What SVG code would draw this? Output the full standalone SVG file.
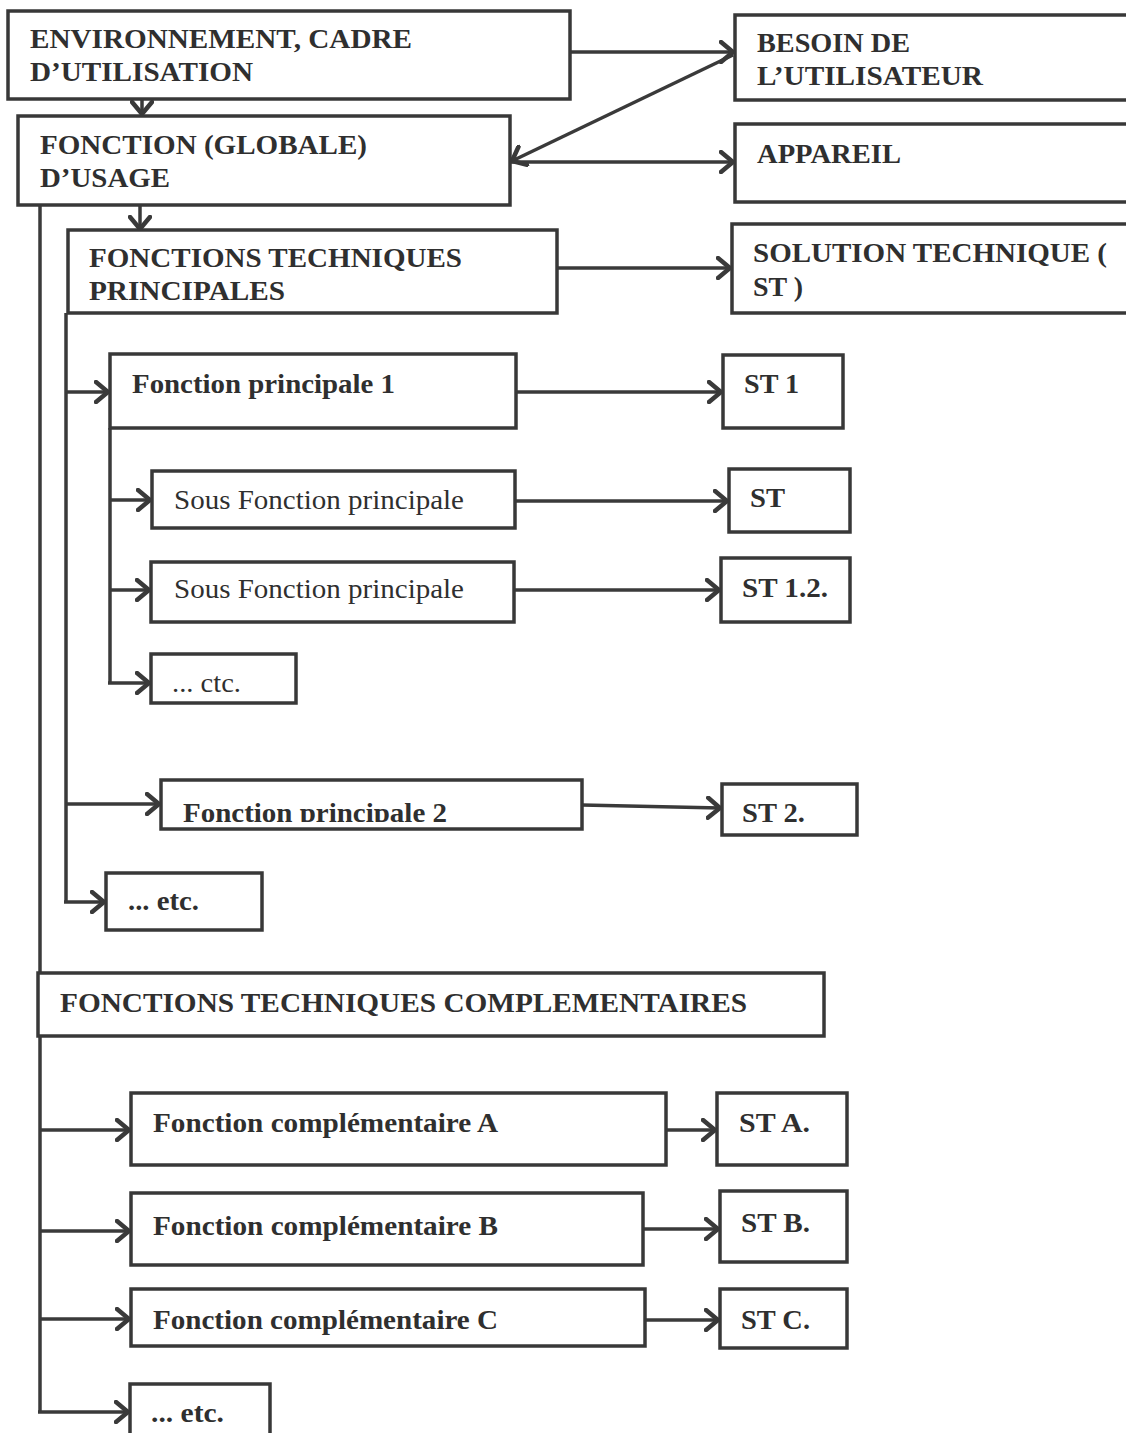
<svg xmlns="http://www.w3.org/2000/svg" width="1126" height="1433" viewBox="0 0 1126 1433">
  <style>
    .box { fill: #ffffff; stroke: #383838; stroke-width: 3.5; }
    .t { font-family: 'Liberation Serif', Tinos, 'DejaVu Serif', 'Times New Roman', serif; fill: #2f2f2f; }
    .hb { font-size: 28px; font-weight: bold; }
    .fb { font-size: 27px; font-weight: bold; }
    .fr { font-size: 27px; }
    .line { fill: none; stroke: #3a3a3a; stroke-width: 3.5; }
    .arr { fill: none; stroke: #3a3a3a; stroke-width: 3.5; marker-end: url(#chev); }
  </style>
  <defs>
    <marker id="chev" viewBox="0 0 16 24" refX="14" refY="12" markerWidth="16" markerHeight="24" markerUnits="userSpaceOnUse" orient="auto">
      <path d="M2,2 L14,12 L2,22" fill="none" stroke="#3a3a3a" stroke-width="4.5" stroke-linejoin="miter" stroke-linecap="round"/>
    </marker>
    <clipPath id="clipFP2">
      <rect x="161" y="779" width="421" height="43"/>
    </clipPath>
  </defs>

  <rect x="0" y="0" width="1126" height="1433" fill="#ffffff"/>

  <g id="connectors">
    <!-- top section -->
    <line class="arr" x1="570" y1="52" x2="733" y2="52"/>
    <line class="arr" x1="733" y1="55" x2="512" y2="161"/>
    <line class="arr" x1="510" y1="162" x2="733" y2="162"/>
    <line class="arr" x1="142" y1="90" x2="142" y2="114"/>
    <line class="arr" x1="140" y1="205" x2="140" y2="229"/>
    <line class="arr" x1="557" y1="268" x2="730" y2="268"/>

    <!-- main left spine -->
    <polyline class="line" points="40,205 40,1412"/>
    <line class="arr" x1="40" y1="1130" x2="129" y2="1130"/>
    <line class="arr" x1="40" y1="1231" x2="129" y2="1231"/>
    <line class="arr" x1="40" y1="1319" x2="129" y2="1319"/>
    <line class="arr" x1="38" y1="1412" x2="128" y2="1412"/>

    <!-- principal functions spine -->
    <polyline class="line" points="66,313 66,902"/>
    <line class="arr" x1="66" y1="392" x2="108" y2="392"/>
    <line class="arr" x1="66" y1="804" x2="159" y2="804"/>
    <line class="arr" x1="64" y1="902" x2="104" y2="902"/>

    <!-- sub-functions spine -->
    <polyline class="line" points="110,428 110,684"/>
    <line class="arr" x1="110" y1="500" x2="150" y2="500"/>
    <line class="arr" x1="110" y1="590" x2="149" y2="590"/>
    <line class="arr" x1="108" y1="683" x2="149" y2="683"/>

    <!-- solutions -->
    <line class="arr" x1="516" y1="392" x2="721" y2="392"/>
    <line class="arr" x1="515" y1="501" x2="727" y2="501"/>
    <line class="arr" x1="514" y1="590" x2="719" y2="590"/>
    <line class="arr" x1="582" y1="805" x2="720" y2="808"/>
    <line class="arr" x1="666" y1="1130" x2="715" y2="1130"/>
    <line class="arr" x1="643" y1="1229" x2="718" y2="1229"/>
    <line class="arr" x1="645" y1="1320" x2="718" y2="1320"/>
  </g>

  <g id="env">
    <rect class="box" x="8" y="11" width="562" height="88"/>
    <text class="t hb" x="30" y="48" textLength="382" lengthAdjust="spacingAndGlyphs">ENVIRONNEMENT, CADRE</text>
    <text class="t hb" x="30" y="81" textLength="223" lengthAdjust="spacingAndGlyphs">D’UTILISATION</text>
  </g>

  <g id="besoin">
    <rect class="box" x="735" y="15" width="400" height="85"/>
    <text class="t hb" x="757" y="52" textLength="153" lengthAdjust="spacingAndGlyphs">BESOIN DE</text>
    <text class="t hb" x="757" y="85" textLength="226" lengthAdjust="spacingAndGlyphs">L’UTILISATEUR</text>
  </g>

  <g id="fonction-usage">
    <rect class="box" x="18" y="116" width="492" height="89"/>
    <text class="t hb" x="40" y="154" textLength="327" lengthAdjust="spacingAndGlyphs">FONCTION (GLOBALE)</text>
    <text class="t hb" x="40" y="187" textLength="130" lengthAdjust="spacingAndGlyphs">D’USAGE</text>
  </g>

  <g id="appareil">
    <rect class="box" x="735" y="124" width="400" height="78"/>
    <text class="t hb" x="757" y="163" textLength="144" lengthAdjust="spacingAndGlyphs">APPAREIL</text>
  </g>

  <g id="ftp">
    <rect class="box" x="68" y="230" width="489" height="83"/>
    <text class="t hb" x="89" y="267" textLength="373" lengthAdjust="spacingAndGlyphs">FONCTIONS TECHNIQUES</text>
    <text class="t hb" x="89" y="300" textLength="196" lengthAdjust="spacingAndGlyphs">PRINCIPALES</text>
  </g>

  <g id="solution">
    <rect class="box" x="732" y="224" width="400" height="89"/>
    <text class="t hb" x="753" y="262" textLength="354" lengthAdjust="spacingAndGlyphs">SOLUTION TECHNIQUE (</text>
    <text class="t hb" x="753" y="296" textLength="50" lengthAdjust="spacingAndGlyphs">ST )</text>
  </g>

  <g id="fp1">
    <rect class="box" x="110" y="354" width="406" height="74"/>
    <text class="t fb" x="132" y="393" textLength="263" lengthAdjust="spacingAndGlyphs">Fonction principale 1</text>
  </g>
  <g id="st1">
    <rect class="box" x="723" y="355" width="120" height="73"/>
    <text class="t fb" x="744" y="393" textLength="55" lengthAdjust="spacingAndGlyphs">ST 1</text>
  </g>

  <g id="sfp1">
    <rect class="box" x="152" y="471" width="363" height="57"/>
    <text class="t fr" x="174" y="509" textLength="290" lengthAdjust="spacingAndGlyphs">Sous Fonction principale</text>
  </g>
  <g id="st11">
    <rect class="box" x="729" y="469" width="121" height="63"/>
    <text class="t fb" x="750" y="507" textLength="35" lengthAdjust="spacingAndGlyphs">ST</text>
  </g>

  <g id="sfp2">
    <rect class="box" x="151" y="562" width="363" height="60"/>
    <text class="t fr" x="174" y="598" textLength="290" lengthAdjust="spacingAndGlyphs">Sous Fonction principale</text>
  </g>
  <g id="st12">
    <rect class="box" x="721" y="558" width="129" height="64"/>
    <text class="t fb" x="742" y="597" textLength="86" lengthAdjust="spacingAndGlyphs">ST 1.2.</text>
  </g>

  <g id="sfp-etc">
    <rect class="box" x="151" y="654" width="145" height="49"/>
    <text class="t fr" x="172" y="692" textLength="69" lengthAdjust="spacingAndGlyphs">... ctc.</text>
  </g>

  <g id="fp2">
    <rect class="box" x="161" y="780" width="421" height="49"/>
    <text class="t fb" x="183" y="822" textLength="264" lengthAdjust="spacingAndGlyphs" clip-path="url(#clipFP2)">Fonction principale 2</text>
  </g>
  <g id="st2">
    <rect class="box" x="722" y="784" width="135" height="51"/>
    <text class="t fb" x="742" y="822" textLength="63" lengthAdjust="spacingAndGlyphs">ST 2.</text>
  </g>

  <g id="fp-etc">
    <rect class="box" x="106" y="873" width="156" height="57"/>
    <text class="t fb" x="128" y="910" textLength="71" lengthAdjust="spacingAndGlyphs">... etc.</text>
  </g>

  <g id="ftc">
    <rect class="box" x="38" y="973" width="786" height="63"/>
    <text class="t hb" x="60" y="1012" textLength="687" lengthAdjust="spacingAndGlyphs">FONCTIONS TECHNIQUES COMPLEMENTAIRES</text>
  </g>

  <g id="fca">
    <rect class="box" x="131" y="1093" width="535" height="72"/>
    <text class="t hb" x="153" y="1132" textLength="345" lengthAdjust="spacingAndGlyphs">Fonction complémentaire A</text>
  </g>
  <g id="sta">
    <rect class="box" x="717" y="1093" width="130" height="72"/>
    <text class="t hb" x="739" y="1132" textLength="71" lengthAdjust="spacingAndGlyphs">ST A.</text>
  </g>

  <g id="fcb">
    <rect class="box" x="131" y="1193" width="512" height="72"/>
    <text class="t hb" x="153" y="1235" textLength="345" lengthAdjust="spacingAndGlyphs">Fonction complémentaire B</text>
  </g>
  <g id="stb">
    <rect class="box" x="720" y="1191" width="127" height="71"/>
    <text class="t hb" x="741" y="1232" textLength="69" lengthAdjust="spacingAndGlyphs">ST B.</text>
  </g>

  <g id="fcc">
    <rect class="box" x="131" y="1289" width="514" height="57"/>
    <text class="t hb" x="153" y="1329" textLength="345" lengthAdjust="spacingAndGlyphs">Fonction complémentaire C</text>
  </g>
  <g id="stc">
    <rect class="box" x="720" y="1289" width="127" height="59"/>
    <text class="t hb" x="741" y="1329" textLength="69" lengthAdjust="spacingAndGlyphs">ST C.</text>
  </g>

  <g id="fc-etc">
    <rect class="box" x="130" y="1384" width="140" height="60"/>
    <text class="t hb" x="151" y="1422" textLength="73" lengthAdjust="spacingAndGlyphs">... etc.</text>
  </g>
</svg>
